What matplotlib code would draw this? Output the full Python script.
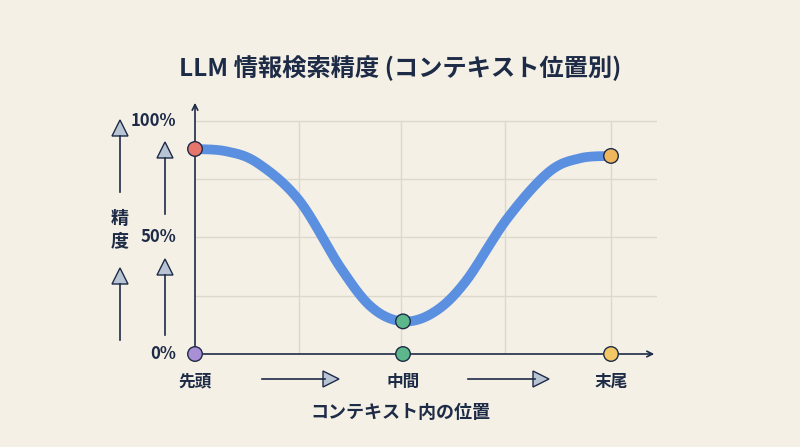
import numpy as np
import matplotlib
matplotlib.use("Agg")
import matplotlib.pyplot as plt
from matplotlib.patches import Polygon

plt.rcParams['font.family'] = ['Noto Sans CJK JP', 'DejaVu Sans']

positions = ["先頭", "中間", "末尾"]
point_x = [0.0, 1.0, 2.0]
point_y = [88, 14, 85]
point_colors = ["#e8756b", "#5cb88a", "#f0b65c"]
base_colors = ["#a98fd6", "#5cb88a", "#f2c867"]
curve_x = [0.0, 0.15, 0.30, 0.50, 0.70, 0.85, 1.0, 1.15, 1.30, 1.50, 1.70, 1.85, 2.0]
curve_y = [88, 87, 82, 66, 37, 20, 14, 18, 31, 58, 78, 84, 85]
yticks = [0, 50, 100]
ytick_labels = ["0%", "50%", "100%"]

BG = "#f4f0e5"; INK = "#1e2b47"; BLUE = "#5b8fe0"; GRID = "#dcd8cc"

W, H = 800, 447
fig = plt.figure(figsize=(8, 4.47), dpi=100, facecolor=BG)
x0, y0 = 195, 354
px_per_x = (611 - 195) / 2
px_per_y = (354 - 121) / 100
xmax = (657 - x0) / px_per_x
ymax = (y0 - 100) / px_per_y
ax = fig.add_axes([x0 / W, (H - y0) / H, (657 - x0) / W, (y0 - 100) / H])
ax.set_facecolor(BG)
ax.set_xlim(0, xmax); ax.set_ylim(0, ymax)
for s in ax.spines.values():
    s.set_visible(False)
ax.set_xticks([]); ax.set_yticks([])

for gx in [0.5, 0.99, 1.49, 2.0]:
    ax.plot([gx, gx], [0, 100], color=GRID, lw=1, zorder=0)
for gy in [25, 50, 75, 100]:
    ax.plot([0, xmax], [gy, gy], color=GRID, lw=1, zorder=0)

ax.annotate("", xy=(xmax, 0), xytext=(0, 0), arrowprops=dict(arrowstyle="->", color=INK, lw=1.2), annotation_clip=False)
ax.annotate("", xy=(0, ymax), xytext=(0, 0), arrowprops=dict(arrowstyle="->", color=INK, lw=1.2), annotation_clip=False)

def catmull(xs, ys, n=30):
    P = np.array(list(zip(xs, ys)), float)
    P = np.vstack([P[0], P, P[-1]])
    out = []
    for i in range(1, len(P) - 2):
        p0, p1, p2, p3 = P[i-1], P[i], P[i+1], P[i+2]
        for t in np.linspace(0, 1, n, endpoint=False):
            out.append(0.5 * ((2*p1) + (-p0+p2)*t + (2*p0-5*p1+4*p2-p3)*t**2 + (-p0+3*p1-3*p2+p3)*t**3))
    out.append(P[-2])
    return np.array(out)
c = catmull(curve_x, curve_y)
ax.plot(c[:, 0], c[:, 1], color=BLUE, lw=7, solid_capstyle='round', zorder=2)

ax.scatter(point_x, point_y, s=110, c=point_colors, edgecolors=INK, linewidths=1, zorder=3, clip_on=False)
ax.scatter(point_x, [0]*3, s=110, c=base_colors, edgecolors=INK, linewidths=1, zorder=3, clip_on=False)

for v, l in zip(yticks, ytick_labels):
    ax.text(-0.09, v, l, ha='right', va='center', fontsize=12, color=INK, fontweight='bold')
for xv, l in zip(point_x, positions):
    ax.text(xv, -12, l, ha='center', va='center', fontsize=12, color=INK, fontweight='bold')

def ftext(x, y, s, **kw):
    fig.text(x / W, 1 - y / H, s, **kw)
ftext(400, 68, "LLM 情報検索精度 (コンテキスト位置別)", ha='center', va='center', fontsize=17.5, fontweight='bold', color=INK)
ftext(400, 412, "コンテキスト内の位置", ha='center', va='center', fontsize=13, fontweight='bold', color=INK)
ftext(120, 218, "精", ha='center', va='center', fontsize=13, fontweight='bold', color=INK)
ftext(120, 241, "度", ha='center', va='center', fontsize=13, fontweight='bold', color=INK)

def fline(xs, ys):
    fig.add_artist(plt.Line2D([x / W for x in xs], [1 - y / H for y in ys], color=INK, lw=1.2))
def tri(cx, cy, up=True, size=8):
    if up:
        pts = [(cx - size, cy + size), (cx + size, cy + size), (cx, cy - size)]
    else:
        pts = [(cx - size, cy - size), (cx - size, cy + size), (cx + size, cy)]
    fig.add_artist(Polygon([(x / W, 1 - y / H) for x, y in pts], closed=True, facecolor="#b8c4d4", edgecolor=INK, lw=1, transform=fig.transFigure))

for cx, ty, y1, y2 in [(120, 128, 136, 192), (120, 276, 284, 340), (165, 150, 158, 214), (165, 267, 275, 335)]:
    fline([cx, cx], [y1, y2]); tri(cx, ty)
for xa, xb in [(262, 325), (468, 535)]:
    fline([xa, xb], [379, 379]); tri(xb + 6, 379, up=False)

fig.savefig("out.png", dpi=100, facecolor=BG)
